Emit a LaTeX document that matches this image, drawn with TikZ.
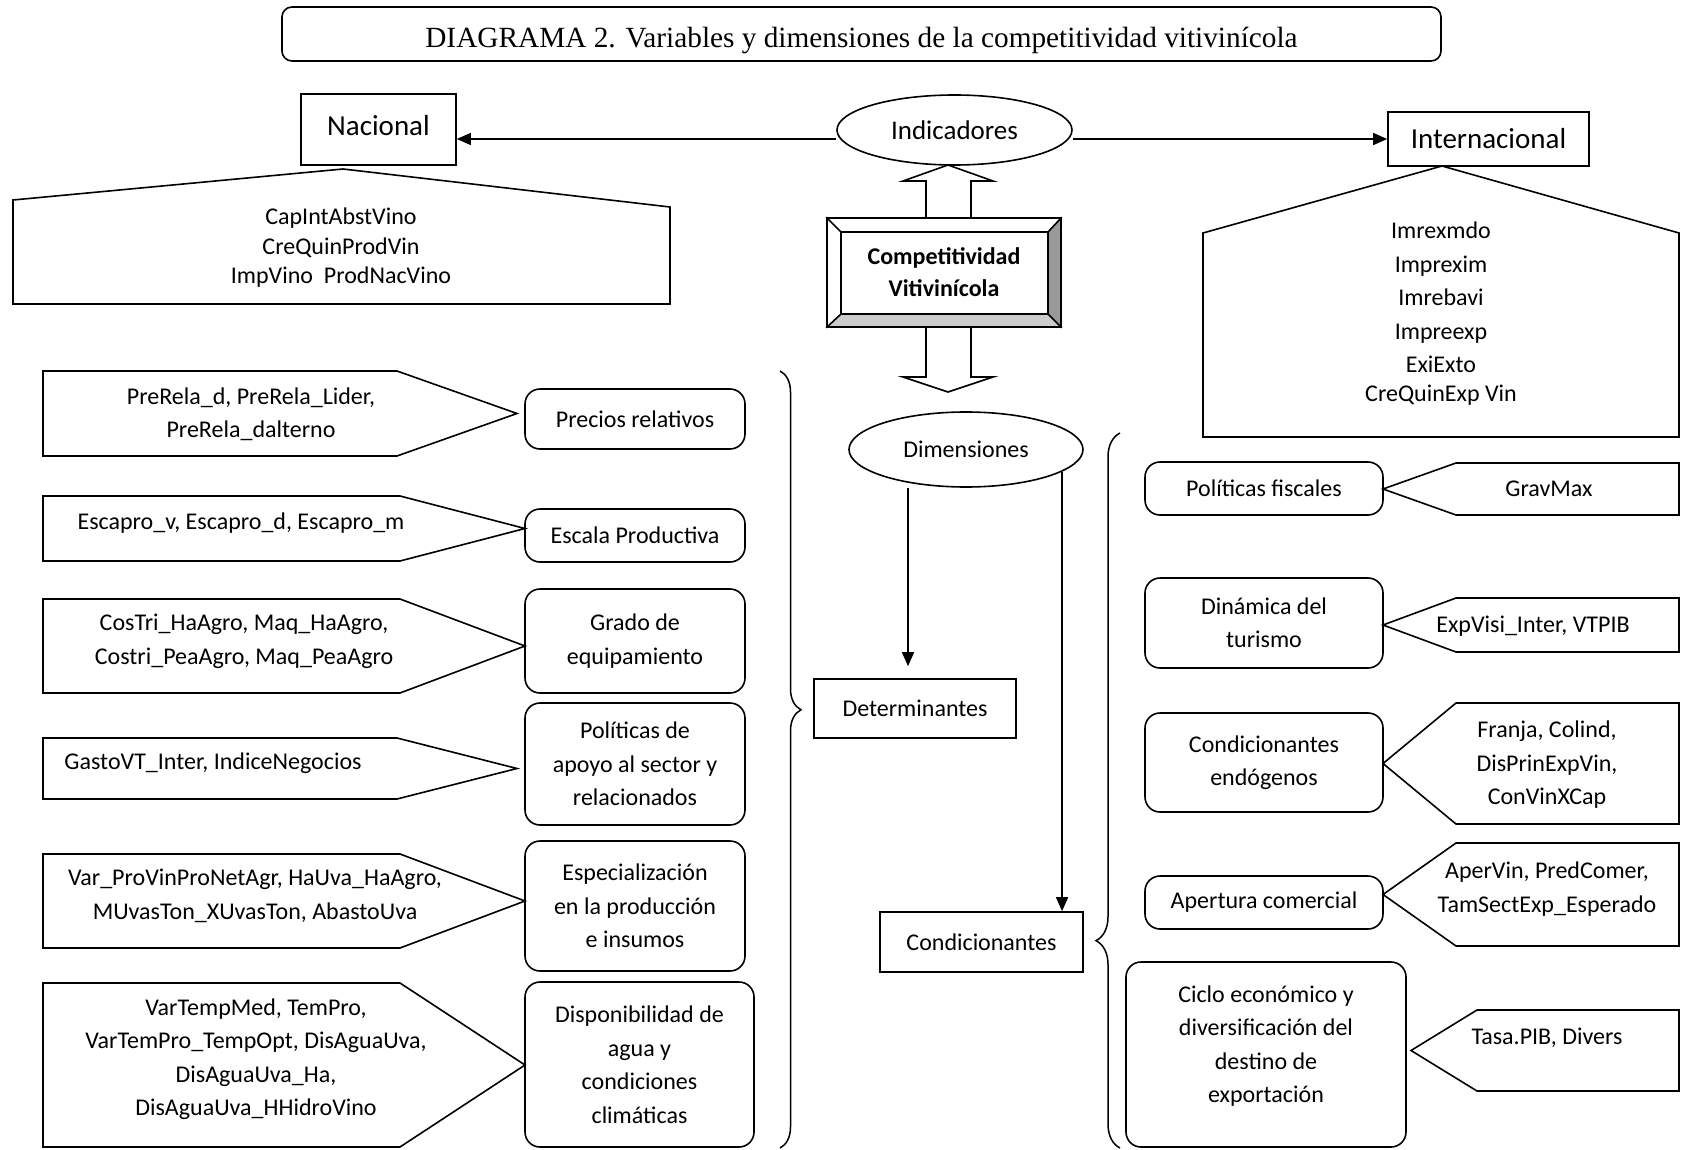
\documentclass[tikz,border=0pt]{standalone}
\usepackage{fontspec}
\setmainfont{Carlito}
\newfontfamily\titlefont{Liberation Serif}
\usetikzlibrary{shapes.geometric, arrows.meta, decorations.pathreplacing}

\newcommand{\bodyfont}{\fontsize{24}{33.5}\selectfont}
\newcommand{\headfont}{\fontsize{29}{34}\selectfont}

\tikzset{
    box/.style={draw, line width=1.6pt, inner sep=0pt, align=center, font=\bodyfont},
    roundbox/.style={box, rounded corners=15pt},
    oval/.style={draw, ellipse, line width=1.6pt, inner sep=0pt},
    varshape/.style={draw, line width=1.6pt, line join=miter},
    vartext/.style={inner sep=0pt, align=center, font=\bodyfont},
    thinarrow/.style={line width=1.4pt, -{Triangle[length=14pt, width=12pt]}},
    bigbrace/.style={decorate, line width=1.5pt},
}

\begin{document}
\begin{tikzpicture}[x=1pt, y=-1pt]
    \useasboundingbox (0,0) rectangle (1681,1150);
    % Title
    \node[box, rounded corners=10pt, minimum width=1159pt, minimum height=54pt,
          text height=28pt, text depth=0pt,
          font=\titlefont\fontsize{29.3}{34}\selectfont] (Title) at (861.5,34)
          {DIAGRAMA 2. Variables y dimensiones de la competitividad vitivinícola};

    % Indicadores
    \node[oval, minimum width=235pt, minimum height=70pt, font=\fontsize{27}{32}\selectfont] (Ind) at (954.5,130) {Indicadores};
    \node[box, minimum width=155pt, minimum height=71pt, text depth=8pt, font=\headfont] (Nac) at (378.5,129.5) {Nacional};
    \node[box, minimum width=201pt, minimum height=54pt, font=\headfont] (Int) at (1488.5,139) {Internacional};
    \draw[thinarrow] (Ind.west |- Int.west) -- (Nac.east |- Int.west);
    \draw[thinarrow] (Ind.east |- Int.west) -- (Int.west);

    % Indicator variables
    \draw[varshape] (13,200) -- (343,169) -- (670,207) -- (670,304) -- (13,304) -- cycle;
    \node[vartext, font=\fontsize{24}{29.5}\selectfont] (NacVar) at (341,248)
          {CapIntAbstVino\\CreQuinProdVin\\ImpVino\ \ ProdNacVino};
    \draw[varshape] (1203,233) -- (1442,166) -- (1679,233) -- (1679,437) -- (1203,437) -- cycle;
    \node[vartext] (IntVar) at (1441,314)
          {Imrexmdo\\Imprexim\\Imrebavi\\Impreexp\\ExiExto\\[-4.5pt]CreQuinExp Vin};

    % Competitividad
    \fill[black!40] (1061,218) -- (1061,327) -- (1048,314) -- (1048,232) -- cycle;
    \fill[black!20] (827,327) -- (1061,327) -- (1048,314) -- (841,314) -- cycle;
    \node[box, minimum width=234pt, minimum height=109pt, font=\bfseries\fontsize{24}{32}\selectfont] (Comp) at (944,272.5)
          {Competitividad\\Vitivinícola};
    \draw[line width=1.6pt] (841,232) rectangle (1048,314);
    \draw[line width=1.6pt] (Comp.north west) -- (841,232) (Comp.north east) -- (1048,232)
          (Comp.south west) -- (841,314) (Comp.south east) -- (1048,314);
    \draw[varshape] (926,218) -- (926,181) -- (903,181) -- (948,165) -- (993,181) -- (971,181) -- (971,218);
    \draw[varshape] (926,327) -- (926,377) -- (903,377) -- (948,392) -- (993,377) -- (971,377) -- (971,327);

    % Dimensiones
    \node[oval, minimum width=234pt, minimum height=75pt, font=\bodyfont] (Dim) at (966,449.5) {Dimensiones};
    \node[box, minimum width=202pt, minimum height=59pt] (Det) at (915,708.5) {Determinantes};
    \node[box, minimum width=203pt, minimum height=60pt] (Cond) at (981.5,942) {Condicionantes};
    \draw[thinarrow, shorten >=12pt] ([xshift=-58pt]Dim.south) -- ([xshift=-58pt]Dim.south |- Det.north);
    \draw[thinarrow] (Dim.347) -- (Dim.347 |- Cond.north);

    % Braces
    \coordinate (DetTop) at (780,371);
    \coordinate (DetBot) at (780,1148);
    \draw[bigbrace, decoration={brace, amplitude=21pt, aspect=0.436}] (DetTop) -- (DetBot);
    \coordinate (CondTop) at (1120,433);
    \coordinate (CondBot) at (1120,1148);
    \draw[bigbrace, decoration={brace, amplitude=24pt, aspect=0.29}] (CondBot) -- (CondTop);

    % Determinantes
    \foreach \i/\x/\y/\w/\h/\txt in {1/635/419/220/60/Precios relativos,
        2/635/535.5/220/53/Escala Productiva,
        3/635/641/220/104/{Grado de\\equipamiento},
        4/635/764/220/122/{Políticas de\\apoyo al sector y\\relacionados},
        5/635/906/220/130/{Especialización\\en la producción\\e insumos},
        6/639.5/1064.5/229/165/{Disponibilidad de\\agua y\\condiciones\\climáticas}} {
        \node[roundbox, minimum width=\w pt, minimum height=\h pt] (Det-\i) at (\x,\y) {\txt};
    }
    \foreach \i/\t/\b/\s/\p/\tx/\ty/\txt in {1/371/456/397/517/251/414.5/{PreRela\_d, PreRela\_Lider,\\PreRela\_dalterno},
        2/496/561/400/525/241/523/{Escapro\_v, Escapro\_d, Escapro\_m},
        3/599/693/400/525/244/641.5/{CosTri\_HaAgro, Maq\_HaAgro,\\Costri\_PeaAgro, Maq\_PeaAgro},
        4/738/799/397/517/213/763/{GastoVT\_Inter, IndiceNegocios},
        5/854/948/400/525/255/896/{Var\_ProVinProNetAgr, HaUva\_HaAgro,\\MUvasTon\_XUvasTon, AbastoUva},
        6/983/1147/400/525/256/1059/{VarTempMed, TemPro,\\VarTemPro\_TempOpt, DisAguaUva,\\DisAguaUva\_Ha,\\DisAguaUva\_HHidroVino}} {
        \draw[varshape] (43,\t) -- (\s,\t) -- (\p,{(\t+\b)/2}) -- (\s,\b) -- (43,\b) -- cycle;
        \node[vartext] (DetVar-\i) at (\tx,\ty) {\txt};
    }

    % Condicionantes
    \foreach \i/\x/\y/\w/\h/\txt in {1/1264/488.5/238/53/Políticas fiscales,
        2/1264/623/238/90/{Dinámica del\\turismo},
        3/1264/762.5/238/99/{Condicionantes\\endógenos},
        4/1264/902.5/238/53/Apertura comercial} {
        \node[roundbox, minimum width=\w pt, minimum height=\h pt] (Con-\i) at (\x,\y) {\txt};
    }
    \node[roundbox, minimum width=280pt, minimum height=185pt, text depth=21pt] (Con-5) at (1266,1054.5)
          {Ciclo económico y\\diversificación del\\destino de\\exportación};
    \foreach \i/\t/\b/\s/\p/\tx/\ty/\txt in {1/463/515/1456/1383/1549/489/GravMax,
        2/598/652/1456/1383/1533/626/{ExpVisi\_Inter, VTPIB},
        3/703/824/1456/1383/1547/765/{Franja, Colind,\\DisPrinExpVin,\\ConVinXCap},
        4/843/946/1456/1383/1547/889/{AperVin, PredComer,\\TamSectExp\_Esperado},
        5/1010/1091/1477/1411/1547/1038/{Tasa.PIB, Divers}} {
        \draw[varshape] (1679,\t) -- (\s,\t) -- (\p,{(\t+\b)/2}) -- (\s,\b) -- (1679,\b) -- cycle;
        \node[vartext] (ConVar-\i) at (\tx,\ty) {\txt};
    }
\end{tikzpicture}
\end{document}
